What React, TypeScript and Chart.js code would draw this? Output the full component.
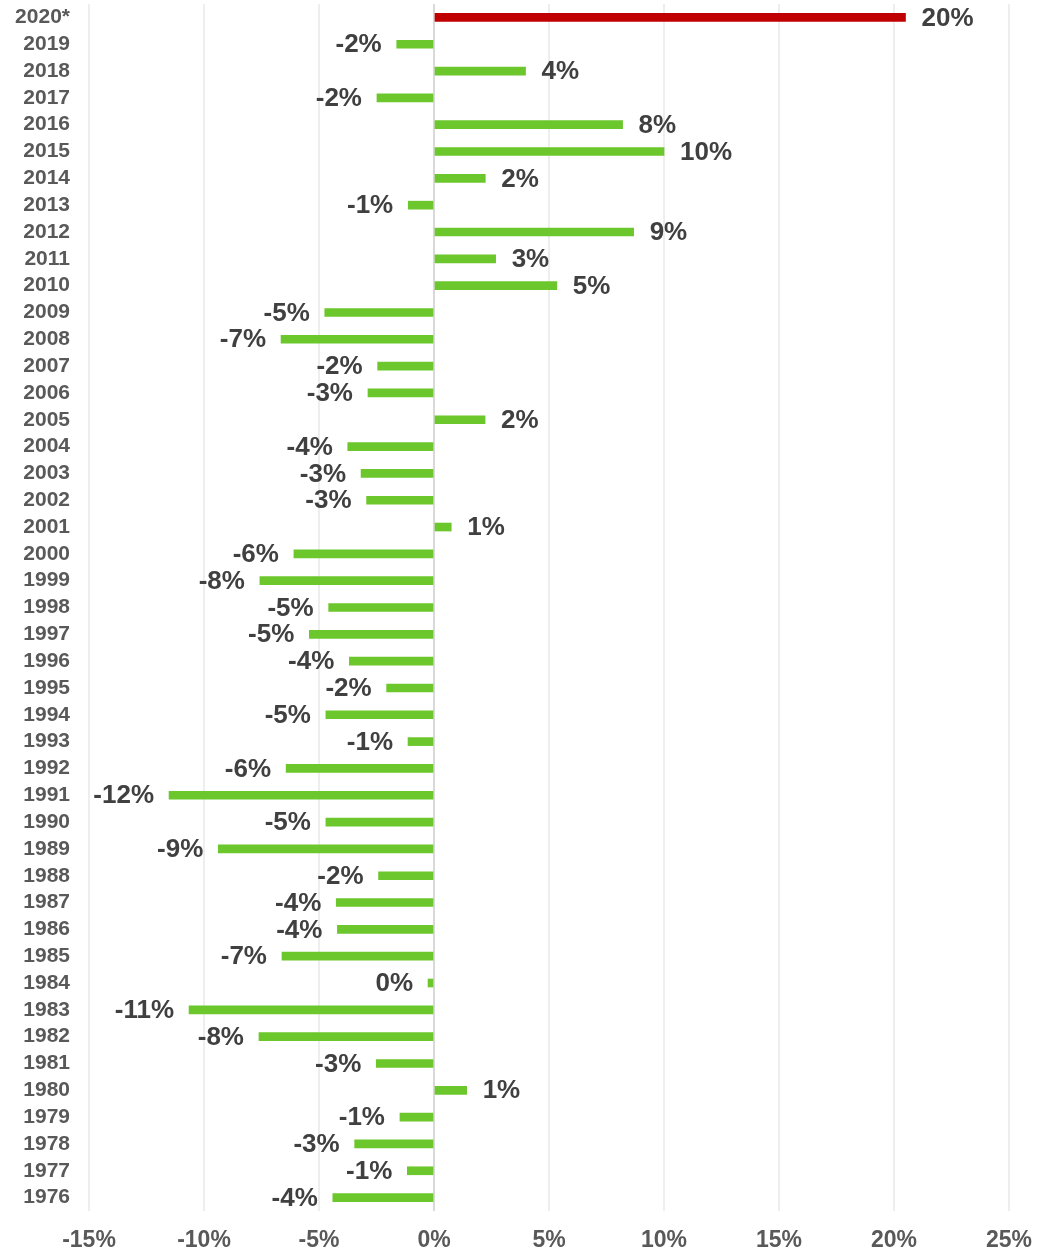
import React, { useEffect, useRef } from "react";
import { Chart, registerables } from "chart.js";

Chart.register(...registerables);

const categories = [
  "2020*", "2019", "2018", "2017", "2016", "2015", "2014", "2013", "2012", "2011", "2010",
  "2009", "2008", "2007", "2006", "2005", "2004", "2003", "2002", "2001", "2000",
  "1999", "1998", "1997", "1996", "1995", "1994", "1993", "1992", "1991", "1990",
  "1989", "1988", "1987", "1986", "1985", "1984", "1983", "1982", "1981", "1980",
  "1979", "1978", "1977", "1976",
];

const values = [
  20.5, -1.62, 3.98, -2.48, 8.2, 10.0, 2.23, -1.12, 8.68, 2.68, 5.34,
  -4.75, -6.65, -2.45, -2.87, 2.22, -3.75, -3.17, -2.93, 0.75, -6.09,
  -7.57, -4.58, -5.42, -3.68, -2.06, -4.7, -1.13, -6.43, -11.52, -4.7,
  -9.38, -2.41, -4.25, -4.2, -6.61, -0.26, -10.65, -7.61, -2.51, 1.42,
  -1.48, -3.45, -1.16, -4.4,
];

const valueLabels = [
  "20%", "-2%", "4%", "-2%", "8%", "10%", "2%", "-1%", "9%", "3%", "5%",
  "-5%", "-7%", "-2%", "-3%", "2%", "-4%", "-3%", "-3%", "1%", "-6%",
  "-8%", "-5%", "-5%", "-4%", "-2%", "-5%", "-1%", "-6%", "-12%", "-5%",
  "-9%", "-2%", "-4%", "-4%", "-7%", "0%", "-11%", "-8%", "-3%", "1%",
  "-1%", "-3%", "-1%", "-4%",
];

const xMin = -15;
const xMax = 25;
const xStep = 5;

const highlightColor = "#c00000";
const barColor = "#6cc72c";
const FONT = "'Liberation Sans', Arial, sans-serif";

const labelPlugin = {
  id: "valueLabels",
  afterDatasetsDraw(chart: any) {
    const ctx = chart.ctx;
    const meta = chart.getDatasetMeta(0);
    ctx.save();
    ctx.font = `bold 26px ${FONT}`;
    ctx.fillStyle = "#404040";
    ctx.textBaseline = "middle";
    meta.data.forEach((bar: any, i: number) => {
      const v = values[i];
      const txt = valueLabels[i];
      if (v >= 0) {
        ctx.textAlign = "left";
        ctx.fillText(txt, bar.x + 16, bar.y + 1);
      } else {
        ctx.textAlign = "right";
        ctx.fillText(txt, bar.x - 15, bar.y + 1);
      }
    });
    ctx.restore();
  },
};

export default function App() {
  const ref = useRef<HTMLCanvasElement | null>(null);

  useEffect(() => {
    if (!ref.current) return;
    const chart = new Chart(ref.current, {
      type: "bar",
      data: {
        labels: categories,
        datasets: [
          {
            data: values,
            backgroundColor: values.map((_, i) => (i === 0 ? highlightColor : barColor)),
            barThickness: 8,
            borderWidth: 0,
          },
        ],
      },
      options: {
        indexAxis: "y",
        animation: false,
        responsive: false,
        maintainAspectRatio: false,
        layout: { padding: { top: 4, right: 28, left: 0, bottom: 0 } },
        plugins: {
          legend: { display: false },
          tooltip: { enabled: false },
        },
        scales: {
          x: {
            min: xMin,
            max: xMax,
            ticks: {
              stepSize: xStep,
              padding: 16,
              color: "#595959",
              font: { family: FONT, size: 23, weight: "bold" },
              callback: (v: any) => `${v}%`,
            },
            grid: {
              drawTicks: false,
              lineWidth: 2,
              color: (c: any) => (c.tick && c.tick.value === 0 ? "#d9d9d9" : "#eeeeee"),
            },
            border: { display: false },
            afterFit: (scale: any) => {
              scale.height = 41;
              scale.paddingLeft = 0;
              scale.paddingRight = 0;
            },
          },
          y: {
            ticks: {
              padding: 19,
              color: "#595959",
              font: { family: FONT, size: 21, weight: "bold" },
              autoSkip: false,
            },
            grid: { display: false, drawTicks: false },
            border: { display: false },
            afterFit: (scale: any) => {
              scale.width = 89;
              scale.paddingTop = 0;
              scale.paddingBottom = 0;
            },
          },
        },
      },
      plugins: [labelPlugin],
    } as any);
    return () => chart.destroy();
  }, []);

  return (
    <div style={{ position: "fixed", left: 0, top: 0, width: 1037, height: 1252, background: "#fff" }}>
      <canvas ref={ref} width={1037} height={1252} style={{ width: 1037, height: 1252 }} />
    </div>
  );
}
